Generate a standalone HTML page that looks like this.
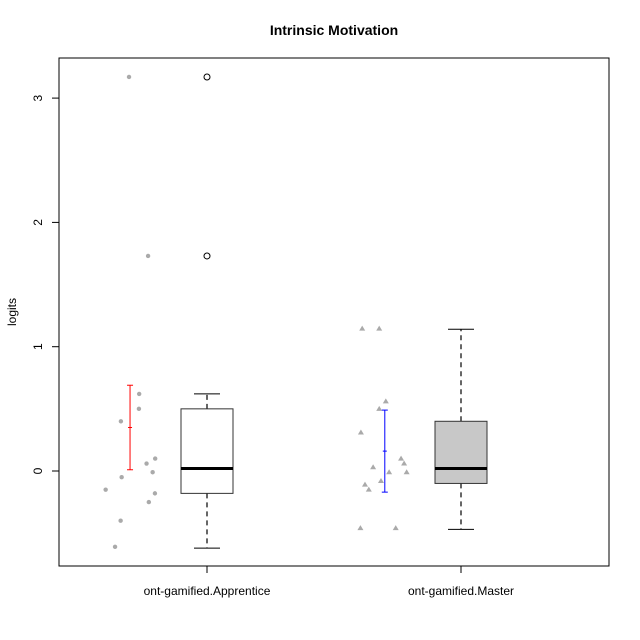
<!DOCTYPE html>
<html><head><meta charset="utf-8"><style>
html,body{margin:0;padding:0;background:#fff}
svg{display:block;font-family:"Liberation Sans",Arial,sans-serif}
</style></head><body>
<svg id="chart" width="640" height="640" viewBox="0 0 640 640" xmlns="http://www.w3.org/2000/svg">
<text x="334" y="35" text-anchor="middle" font-size="14" font-weight="bold">Intrinsic Motivation</text>
<rect x="59" y="58" width="550" height="508" fill="none" stroke="#000" stroke-width="1"/>
<text transform="translate(16,312) rotate(-90)" text-anchor="middle" font-size="12">logits</text>
<g id="layer"></g>
</svg>
<script>
const categories = ["ont-gamified.Apprentice", "ont-gamified.Master"];
const yTicks = [0, 1, 2, 3];
const appX = [0.693,0.768,0.733,0.732,0.661,0.796,0.762,0.786,0.664,0.795,0.771,0.660,0.638,0.601];
const appY = [3.17,1.73,0.62,0.50,0.40,0.10,0.06,-0.01,-0.05,-0.18,-0.25,-0.40,-0.61,-0.15];
const masX = [1.611,1.678,1.704,1.678,1.606,1.764,1.776,1.654,1.717,1.786,1.685,1.622,1.637,1.604,1.743];
const masY = [1.145,1.145,0.56,0.50,0.31,0.10,0.06,0.03,-0.01,-0.01,-0.08,-0.11,-0.15,-0.46,-0.46];
const boxLow = [-0.62, -0.47];
const boxQ1 = [-0.18, -0.10];
const boxMed = [0.02, 0.02];
const boxQ3 = [0.50, 0.40];
const boxHigh = [0.62, 1.14];
const outliers = [[1.73, 3.17], []];
const errMean = [0.35, 0.16];
const errLow = [0.01, -0.17];
const errHigh = [0.69, 0.49];
const errPos = [0.697, 1.70];

const X = v => 207 + (v - 1) * 254;
const Y = v => 471 - v * 124.3;
const NS = "http://www.w3.org/2000/svg";
const layer = document.getElementById('layer');
function mk(tag, attrs, parent) {
  const e = document.createElementNS(NS, tag);
  for (const k in attrs) e.setAttribute(k, attrs[k]);
  (parent || layer).appendChild(e);
  return e;
}
yTicks.forEach(t => {
  const l = mk('line', {x1: 52, x2: 59, y1: Y(t), y2: Y(t), stroke: '#000'});
  
  
  const tx = mk('text', {transform: `translate(42,${Y(t)}) rotate(-90)`, 'text-anchor': 'middle', 'font-size': 12});
  tx.textContent = t;
  
  
});
categories.forEach((c, i) => {
  const l = mk('line', {x1: X(i + 1), x2: X(i + 1), y1: 566, y2: 573, stroke: '#000'});
  
  
  const tx = mk('text', {x: X(i + 1), y: 595, 'text-anchor': 'middle', 'font-size': 12});
  tx.textContent = c;
  
  
});
const fills = ['#fff', '#c8c8c8'];
categories.forEach((c, i) => {
  const cx = X(i + 1);
  const g = mk('g', {});
  
  
  mk('line', {x1: cx, x2: cx, y1: Y(boxQ3[i]), y2: Y(boxHigh[i]), stroke: '#666', 'stroke-width': 2, 'stroke-dasharray': '5,4'}, g);
  mk('line', {x1: cx, x2: cx, y1: Y(boxQ1[i]), y2: Y(boxLow[i]), stroke: '#666', 'stroke-width': 2, 'stroke-dasharray': '5,4'}, g);
  mk('line', {x1: cx - 13, x2: cx + 13, y1: Y(boxHigh[i]), y2: Y(boxHigh[i]), stroke: '#000'}, g);
  mk('line', {x1: cx - 13, x2: cx + 13, y1: Y(boxLow[i]), y2: Y(boxLow[i]), stroke: '#000'}, g);
  mk('rect', {x: cx - 26, y: Y(boxQ3[i]), width: 52, height: Y(boxQ1[i]) - Y(boxQ3[i]), fill: fills[i], stroke: '#333'}, g);
  mk('line', {x1: cx - 26, x2: cx + 26, y1: Y(boxMed[i]), y2: Y(boxMed[i]), stroke: '#000', 'stroke-width': 3}, g);
  outliers[i].forEach(o => {
    const c2 = mk('circle', {cx: cx, cy: Y(o), r: 3, fill: 'none', stroke: '#000'}, g);
    
    
  });
});
appX.forEach((x, i) => {
  const p = mk('circle', {cx: X(x), cy: Y(appY[i]), r: 2.2, fill: '#aaa'});
  
  
});
masX.forEach((x, i) => {
  const px = X(x), py = Y(masY[i]);
  const p = mk('polygon', {points: `${px},${py - 3} ${px - 3},${py + 2} ${px + 3},${py + 2}`, fill: '#aaa'});
  
  
});
const ecol = ['#f00', '#00f'];
categories.forEach((c, i) => {
  const x = X(errPos[i]);
  const g = mk('g', {stroke: ecol[i]});
  
  
  mk('line', {x1: x, x2: x, y1: Y(errHigh[i]), y2: Y(errLow[i])}, g);
  [errHigh[i], errLow[i]].forEach(v => mk('line', {x1: x - 3, x2: x + 3, y1: Y(v), y2: Y(v)}, g));
  mk('line', {x1: x - 2, x2: x + 2, y1: Y(errMean[i]), y2: Y(errMean[i])}, g);
});
</script>
</body></html>
